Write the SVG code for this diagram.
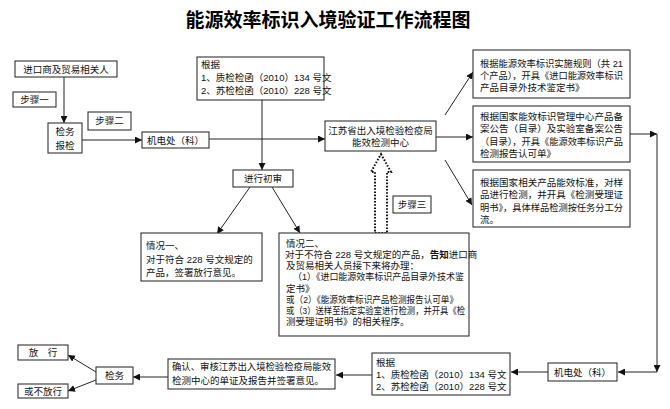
<svg xmlns="http://www.w3.org/2000/svg" width="670" height="409" viewBox="0 0 670 409">
<style>
.b{fill:#fff;stroke:#333;stroke-width:1.1}
.t{font-family:"Liberation Sans","Noto Sans CJK SC",sans-serif;font-size:9.5px;fill:#111}
.c{text-anchor:middle}
.l{fill:none;stroke:#222;stroke-width:1}
.ttl{font-family:"Noto Sans CJK SC",sans-serif;font-size:19px;font-weight:bold;text-anchor:middle;fill:#000}
</style>
<defs>
<marker id="ah" viewBox="0 0 10 10" refX="10" refY="5" markerWidth="7" markerHeight="7" orient="auto" markerUnits="userSpaceOnUse"><path d="M0,0 L10,5 L0,10 z" fill="#111"/></marker>
</defs>
<rect width="670" height="409" fill="#fff"/>
<text class="ttl" x="328" y="27">能源效率标识入境验证工作流程图</text>

<g id="connectors">
<path class="l" d="M64,77 V123" marker-end="url(#ah)"/>
<path class="l" d="M82,140 H142" marker-end="url(#ah)"/>
<path class="l" d="M209,139 H325" marker-end="url(#ah)"/>
<path class="l" d="M262,100 V170" marker-end="url(#ah)"/>
<path class="l" d="M436,137 H473" marker-end="url(#ah)"/>
<path class="l" d="M445,115 L473,72" marker-end="url(#ah)"/>
<path class="l" d="M445,160 L472,205" marker-end="url(#ah)"/>
<path class="l" d="M250,187 L217,234" marker-end="url(#ah)"/>
<path class="l" d="M272,187 L300,233" marker-end="url(#ah)"/>
<path class="l" d="M630,134 H657" marker-end="url(#ah)"/>
<path class="l" d="M657,134 V372" marker-end="url(#ah)"/>
<path class="l" d="M657,372 H618" marker-end="url(#ah)"/>
<path class="l" d="M548,372 H511" marker-end="url(#ah)"/>
<path class="l" d="M372,375 H336" marker-end="url(#ah)"/>
<path class="l" d="M168,377 H133" marker-end="url(#ah)"/>
<path class="l" d="M96,372 L68,355" marker-end="url(#ah)"/>
<path class="l" d="M96,380 L68,391" marker-end="url(#ah)"/>
<polygon points="381,154 391,172 387,172 387,233 375,233 375,172 371,172" fill="#fff" stroke="#111" stroke-width="2" stroke-dasharray="1.6,1.6"/>
</g>

<g id="importer"><rect class="b" x="15" y="61" width="102" height="16"/><text class="t c" x="66" y="73">进口商及贸易相关人</text></g>
<g id="step1"><rect class="b" x="13" y="92" width="43" height="15"/><text class="t c" x="34.5" y="103">步骤一</text></g>
<g id="inspect1"><rect class="b" x="48" y="123" width="34" height="30"/><text class="t c" x="65" y="135">检务</text><text class="t c" x="65" y="149">报检</text></g>
<g id="step2"><rect class="b" x="88" y="112" width="43" height="18"/><text class="t c" x="109.5" y="124">步骤二</text></g>
<g id="mech1"><rect class="b" x="142" y="132" width="67" height="16"/><text class="t c" x="175.5" y="144">机电处（科）</text></g>
<g id="basis1"><rect class="b" x="197" y="57" width="127" height="43"/>
<text class="t" x="201" y="68">根据</text>
<text class="t" x="201" y="81">1、质检检函（2010）134 号文</text>
<text class="t" x="201" y="94">2、苏检检函（2010）228 号文</text></g>
<g id="center"><rect class="b" x="325" y="121" width="111" height="30"/>
<text class="t c" x="380.5" y="134" font-size="9.2">江苏省出入境检验检疫局</text>
<text class="t c" x="380.5" y="146" font-size="9.2">能效检测中心</text></g>
<g id="step3"><rect class="b" x="393" y="196" width="38" height="17"/><text class="t c" x="412" y="208">步骤三</text></g>
<g id="r1"><rect class="b" x="473" y="50" width="157" height="48"/>
<text class="t" x="480" y="67" textLength="143" lengthAdjust="spacingAndGlyphs">根据能源效率标识实施规则（共 21</text>
<text class="t" x="480" y="79" textLength="143" lengthAdjust="spacingAndGlyphs">个产品），开具《进口能源效率标识</text>
<text class="t" x="480" y="91">产品目录外技术鉴定书》</text></g>
<g id="r2"><rect class="b" x="473" y="106" width="157" height="56"/>
<text class="t" x="480" y="120" textLength="143" lengthAdjust="spacingAndGlyphs">根据国家能效标识管理中心产品备</text>
<text class="t" x="480" y="132" textLength="143" lengthAdjust="spacingAndGlyphs">案公告（目录）及实验室备案公告</text>
<text class="t" x="480" y="145" textLength="143" lengthAdjust="spacingAndGlyphs">（目录），开具《能源效率标识产品</text>
<text class="t" x="480" y="157">检测报告认可单》</text></g>
<g id="r3"><rect class="b" x="473" y="170" width="157" height="57"/>
<text class="t" x="480" y="186" textLength="143" lengthAdjust="spacingAndGlyphs">根据国家相关产品能效标准，对样</text>
<text class="t" x="480" y="198" textLength="143" lengthAdjust="spacingAndGlyphs">品进行检测，并开具《检测受理证</text>
<text class="t" x="480" y="211" textLength="143" lengthAdjust="spacingAndGlyphs">明书》，具体样品检测按任务分工分</text>
<text class="t" x="480" y="223">流。</text></g>
<g id="review"><rect class="b" x="233" y="170" width="60" height="17"/><text class="t c" x="263" y="182">进行初审</text></g>
<g id="case1"><rect class="b" x="141" y="233" width="121" height="48"/>
<text class="t" x="146" y="249">情况一、</text>
<text class="t" x="146" y="263">对于符合 228 号文规定的</text>
<text class="t" x="146" y="276">产品，签署放行意见。</text></g>
<g id="case2"><rect class="b" x="279" y="233" width="190" height="103"/>
<text class="t" x="286" y="247">情况二、</text>
<text class="t" x="285" y="258" font-size="8.9">对于不符合 228 号文规定的产品，<tspan font-weight="bold">告知</tspan>进口商</text>
<text class="t" x="286" y="269">及贸易相关人员接下来将办理：</text>
<text class="t" x="293" y="280" textLength="171" lengthAdjust="spacingAndGlyphs">（1）《进口能源效率标识产品目录外技术鉴</text>
<text class="t" x="286" y="292">定书》</text>
<text class="t" x="286" y="303" textLength="172" lengthAdjust="spacingAndGlyphs">或（2）《能源效率标识产品检测报告认可单》</text>
<text class="t" x="286" y="314" textLength="179" lengthAdjust="spacingAndGlyphs">或（3）送样至指定实验室进行检测，并开具《检</text>
<text class="t" x="286" y="325">测受理证明书》的相关程序。</text></g>
<g id="mech2"><rect class="b" x="548" y="363" width="69" height="18"/><text class="t c" x="582.5" y="376">机电处（科）</text></g>
<g id="basis2"><rect class="b" x="372" y="353" width="138" height="42"/>
<text class="t" x="376" y="366">根据</text>
<text class="t" x="376" y="378">1、质检检函（2010）134 号文</text>
<text class="t" x="376" y="390">2、苏检检函（2010）228 号文</text></g>
<g id="confirm"><rect class="b" x="168" y="359" width="167" height="30"/>
<text class="t" x="172" y="370" textLength="159" lengthAdjust="spacingAndGlyphs">确认、审核江苏出入境检验检疫局能效</text>
<text class="t" x="172" y="384">检测中心的单证及报告并签署意见。</text></g>
<g id="inspect2"><rect class="b" x="96" y="367" width="37" height="17"/><text class="t c" x="114.5" y="379">检务</text></g>
<g id="release"><rect class="b" x="18" y="345" width="50" height="15"/><text class="t c" x="43" y="356">放　行</text></g>
<g id="noRelease"><rect class="b" x="18" y="384" width="50" height="14"/><text class="t c" x="43" y="395">或不放行</text></g>
</svg>
